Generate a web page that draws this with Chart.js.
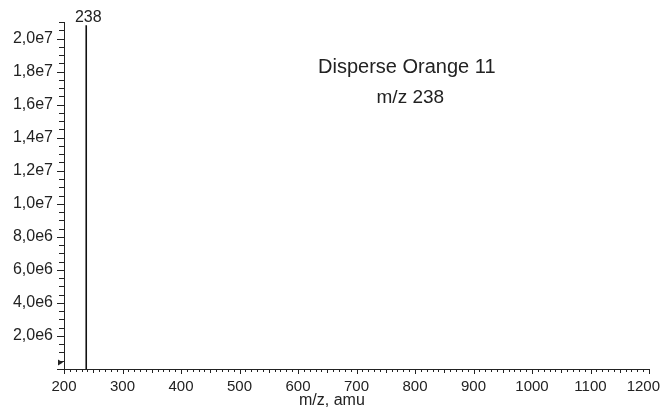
<!DOCTYPE html>
<html>
<head>
<meta charset="utf-8">
<script src="https://cdn.jsdelivr.net/npm/chart.js@4"></script>
<style>
  html, body { margin: 0; padding: 0; background: #fff; }
  #wrap { width: 664px; height: 414px; }
</style>
</head>
<body>
<div id="wrap"><canvas id="spectrum" width="664" height="414"></canvas></div>
<script>
// ===== DATA =====
const peakMz = [238];
const peakIntensity = [2.08e7];
const peakLabels = ["238"];
const xTicks = [200, 300, 400, 500, 600, 700, 800, 900, 1000, 1100, 1200];
const yTickLabels = ["2,0e6", "4,0e6", "6,0e6", "8,0e6", "1,0e7", "1,2e7", "1,4e7", "1,6e7", "1,8e7", "2,0e7"];
const yTickValues = [2e6, 4e6, 6e6, 8e6, 1e7, 1.2e7, 1.4e7, 1.6e7, 1.8e7, 2e7];
const compoundName = "Disperse Orange 11";
const compoundIon = "m/z 238";
const xTitle = "m/z, amu";
const thresholdLevel = 4e5;

const FONT = "'Liberation Sans', Arial, sans-serif";
const INK = "#222";

// stick spectrum: each peak drawn as a vertical segment from 0
const stickData = [];
peakMz.forEach((mz, i) => {
  stickData.push({ x: mz, y: 0 }, { x: mz, y: peakIntensity[i] }, { x: mz, y: null });
});

// ===== EXTRA DRAWING: minor ticks, x labels, peak labels, annotations =====
const spectrumDecor = {
  id: "spectrumDecor",
  afterDraw(chart) {
    const { ctx, chartArea, scales, width } = chart;
    const xs = scales.x, ys = scales.y;
    ctx.save();
    ctx.strokeStyle = INK;
    ctx.lineWidth = 1;

    // x ticks below the axis
    ctx.beginPath();
    for (let v = xs.min; v <= xs.max; v += 10) {
      const px = Math.round(xs.getPixelForValue(v)) + 0.5;
      const len = v % 100 === 0 ? 5 : v % 50 === 0 ? 4 : 3;
      ctx.moveTo(px, chartArea.bottom);
      ctx.lineTo(px, chartArea.bottom + len);
    }
    // y ticks left of the axis
    for (let v = 0; v <= ys.max + 1; v += 5e5) {
      const py = Math.round(ys.getPixelForValue(v)) + 0.5;
      const len = v % 2e6 === 0 ? 7 : 5;
      ctx.moveTo(chartArea.left, py);
      ctx.lineTo(chartArea.left - len, py);
    }
    ctx.stroke();

    // threshold marker
    const ty = ys.getPixelForValue(thresholdLevel);
    ctx.fillStyle = INK;
    ctx.beginPath();
    ctx.moveTo(chartArea.left - 6, ty - 3);
    ctx.lineTo(chartArea.left - 1, ty);
    ctx.lineTo(chartArea.left - 6, ty + 3);
    ctx.closePath();
    ctx.fill();

    // x tick labels, kept inside the canvas at the right edge
    ctx.fillStyle = INK;
    ctx.textAlign = "center";
    ctx.textBaseline = "alphabetic";
    ctx.font = "15px " + FONT;
    xTicks.forEach((v) => {
      const label = String(v);
      const w = ctx.measureText(label).width;
      const px = Math.min(xs.getPixelForValue(v), width - 4 - w / 2);
      ctx.fillText(label, px, chartArea.bottom + 22);
    });

    // peak labels
    ctx.font = "16px " + FONT;
    peakMz.forEach((mz, i) => {
      ctx.fillText(peakLabels[i], xs.getPixelForValue(mz) + 2, ys.getPixelForValue(peakIntensity[i]) - 3);
    });

    // compound annotation
    ctx.font = "20px " + FONT;
    ctx.fillText(compoundName, xs.getPixelForValue(786), ys.getPixelForValue(1.794e7));
    ctx.font = "19px " + FONT;
    ctx.fillText(compoundIon, xs.getPixelForValue(792), ys.getPixelForValue(1.612e7));

    // x axis title
    ctx.font = "16px " + FONT;
    ctx.fillText(xTitle, xs.getPixelForValue(658), chartArea.bottom + 36);
    ctx.restore();
  },
};

// ===== CHART =====
new Chart(document.getElementById("spectrum").getContext("2d"), {
  type: "line",
  data: {
    datasets: [
      {
        label: "Intensity",
        data: stickData,
        borderColor: "#111",
        borderWidth: 1.6,
        pointRadius: 0,
        spanGaps: false,
        tension: 0,
        fill: false,
      },
    ],
  },
  options: {
    responsive: false,
    animation: false,
    layout: { padding: { left: 0, top: 22, right: 15, bottom: 0 } },
    plugins: {
      legend: { display: false },
      tooltip: { enabled: false },
    },
    scales: {
      x: {
        type: "linear",
        min: 200,
        max: 1200,
        afterFit: (s) => { s.height = 45; s.paddingLeft = 0; s.paddingRight = 0; },
        afterBuildTicks: (s) => { s.ticks = xTicks.map((v) => ({ value: v })); },
        ticks: { display: false },
        grid: { display: false, drawTicks: false },
        border: { display: true, color: INK, width: 1 },
      },
      y: {
        type: "linear",
        min: 0,
        max: 2.1e7,
        afterFit: (s) => { s.width = 64; s.paddingTop = 0; s.paddingBottom = 0; },
        afterBuildTicks: (s) => { s.ticks = yTickValues.map((v) => ({ value: v })); },
        ticks: {
          color: INK,
          font: { family: FONT, size: 16 },
          padding: 11,
          autoSkip: false,
          callback: (v) => {
            const i = yTickValues.indexOf(v);
            return i >= 0 ? yTickLabels[i] : "";
          },
        },
        grid: { display: false, drawTicks: false },
        border: { display: true, color: INK, width: 1 },
      },
    },
  },
  plugins: [spectrumDecor],
});
</script>
</body>
</html>
